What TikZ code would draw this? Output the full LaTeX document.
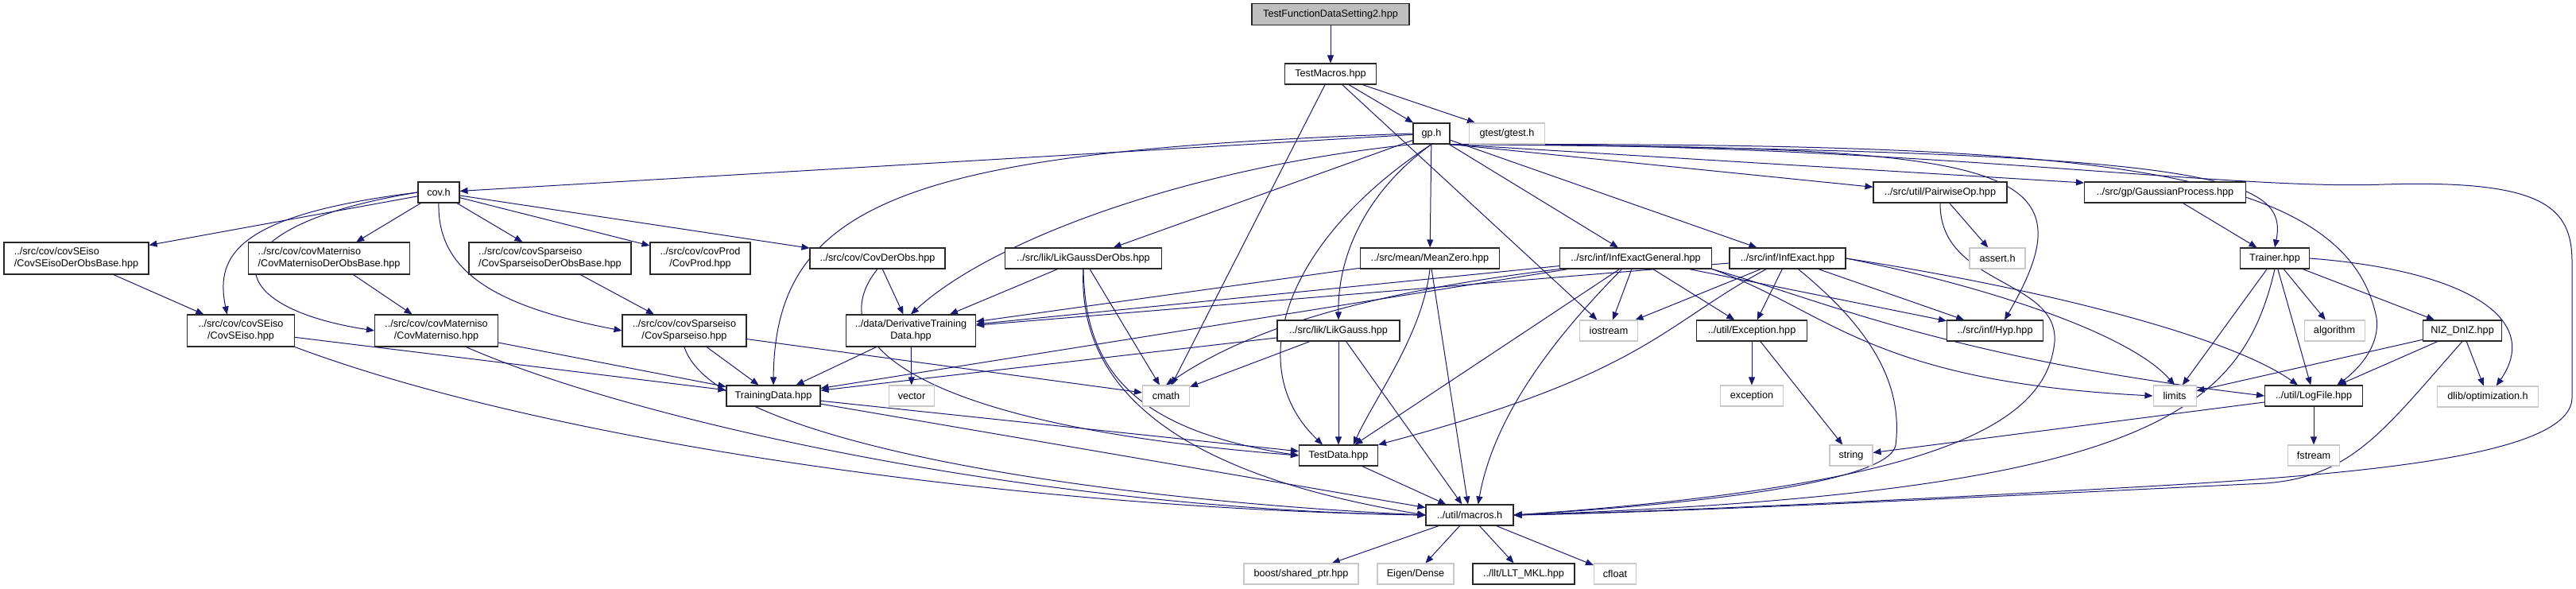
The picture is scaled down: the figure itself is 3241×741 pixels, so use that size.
\documentclass[tikz,border=0pt]{standalone}
\usepackage{fontspec}
\setmainfont{Liberation Sans}
\usetikzlibrary{arrows.meta}
\pgfdeclarelayer{edges}
\pgfsetlayers{edges,main}
\definecolor{edgeblue}{RGB}{25,25,112}
\definecolor{rootgray}{RGB}{191,191,191}
\definecolor{sysgray}{RGB}{200,200,200}
\definecolor{boxdraw}{RGB}{40,40,40}
\newlength\gpx
\setlength\gpx{0.75pt}
\begin{document}
\begin{tikzpicture}[x=0.75pt,y=-0.75pt,every node/.style={font=\fontsize{9.5}{11.25}\selectfont},
    hdr/.style={draw=boxdraw,fill=white,line width=0.8pt,minimum height=26\gpx,inner sep=1pt,align=center},
    hdrtwo/.style={hdr,minimum height=40\gpx},
    syshdr/.style={hdr,draw=sysgray},
    dep/.style={-{Triangle[length=7.5pt,width=6pt]},color=edgeblue,line width=0.75pt}]
    \useasboundingbox (0,0) rectangle (3241,741);
    \node[hdr,fill=rootgray,minimum width=198\gpx,minimum height=27\gpx] (root) at (1674,18) {TestFunctionDataSetting2.hpp};
    \node[hdr,minimum width=115\gpx] (testmacros) at (1674,93) {TestMacros.hpp};
    \node[hdr,minimum width=46\gpx] (gp) at (1801,168) {gp.h};
    \node[syshdr,minimum width=95\gpx] (gtest) at (1896,168) {gtest/gtest.h};
    \node[hdr,minimum width=168\gpx] (pairwise) at (2441,242) {../src/util/PairwiseOp.hpp};
    \node[hdr,minimum width=203\gpx] (gaussproc) at (2724,242) {../src/gp/GaussianProcess.hpp};
    \node[hdr,minimum width=52\gpx] (cov) at (552,242) {cov.h};
    \node[hdrtwo,align=left,minimum width=182\gpx] (seisobase) at (96,325) {../src/cov/covSEiso\\/CovSEisoDerObsBase.hpp};
    \node[hdrtwo,align=left,minimum width=203\gpx] (maternbase) at (414,325) {../src/cov/covMaterniso\\/CovMaternisoDerObsBase.hpp};
    \node[hdrtwo,align=left,minimum width=204\gpx] (sparsebase) at (692,325) {../src/cov/covSparseiso\\/CovSparseisoDerObsBase.hpp};
    \node[hdrtwo,minimum width=126\gpx] (covprod) at (881,325) {../src/cov/covProd\\/CovProd.hpp};
    \node[hdr,minimum width=170\gpx] (covderobs) at (1104,325) {../src/cov/CovDerObs.hpp};
    \node[hdr,minimum width=197\gpx] (likgder) at (1363,325) {../src/lik/LikGaussDerObs.hpp};
    \node[hdr,minimum width=175\gpx] (meanzero) at (1799,325) {../src/mean/MeanZero.hpp};
    \node[hdr,minimum width=191\gpx] (infgen) at (2058,325) {../src/inf/InfExactGeneral.hpp};
    \node[hdr,minimum width=146\gpx] (infexact) at (2249,325) {../src/inf/InfExact.hpp};
    \node[syshdr,minimum width=70\gpx] (assert) at (2513,325) {assert.h};
    \node[hdr,minimum width=87\gpx] (trainer) at (2862,325) {Trainer.hpp};
    \node[hdrtwo,minimum width=135\gpx] (seiso) at (303,416) {../src/cov/covSEiso\\/CovSEiso.hpp};
    \node[hdrtwo,minimum width=155\gpx] (matern) at (549,416) {../src/cov/covMaterniso\\/CovMaterniso.hpp};
    \node[hdrtwo,minimum width=156\gpx] (sparse) at (861,416) {../src/cov/covSparseiso\\/CovSparseiso.hpp};
    \node[hdrtwo,minimum width=163\gpx] (derivtd) at (1146,416) {../data/DerivativeTraining\\Data.hpp};
    \node[hdr,minimum width=154\gpx] (likgauss) at (1684,416) {../src/lik/LikGauss.hpp};
    \node[syshdr,minimum width=73\gpx] (iostream) at (2024,416) {iostream};
    \node[hdr,minimum width=139\gpx] (exc) at (2204,416) {../util/Exception.hpp};
    \node[hdr,minimum width=121\gpx] (hyp) at (2510,416) {../src/inf/Hyp.hpp};
    \node[syshdr,minimum width=76\gpx] (algorithm) at (2937,416) {algorithm};
    \node[hdr,minimum width=99\gpx] (niz) at (3098,416) {NIZ\_DnIZ.hpp};
    \node[hdr,minimum width=118\gpx] (traindata) at (973,498) {TrainingData.hpp};
    \node[syshdr,minimum width=57\gpx] (vector) at (1147,498) {vector};
    \node[syshdr,minimum width=59\gpx] (cmath) at (1467,498) {cmath};
    \node[syshdr,minimum width=79\gpx] (exception) at (2204,498) {exception};
    \node[syshdr,minimum width=54\gpx] (limits) at (2736,498) {limits};
    \node[hdr,minimum width=123\gpx] (logfile) at (2911,498) {../util/LogFile.hpp};
    \node[syshdr,minimum width=127\gpx] (dlib) at (3130,499) {dlib/optimization.h};
    \node[hdr,minimum width=99\gpx] (testdata) at (1684,573) {TestData.hpp};
    \node[syshdr,minimum width=54\gpx] (string) at (2329,573) {string};
    \node[syshdr,minimum width=65\gpx] (fstream) at (2911,573) {fstream};
    \node[hdr,minimum width=110\gpx] (macros) at (1849,648) {../util/macros.h};
    \node[syshdr,minimum width=144\gpx] (boost) at (1637,722) {boost/shared\_ptr.hpp};
    \node[syshdr,minimum width=96\gpx] (eigen) at (1781,722) {Eigen/Dense};
    \node[hdr,minimum width=128\gpx] (llt) at (1917,722) {../llt/LLT\_MKL.hpp};
    \node[syshdr,minimum width=53\gpx] (cfloat) at (2032,722) {cfloat};
    \begin{pgfonlayer}{edges}
    \draw[dep] (root)--(testmacros);
    \draw[dep] (testmacros)--(gp); \draw[dep] (testmacros)--(gtest); \draw[dep] (testmacros)--(iostream); \draw[dep] (testmacros)--(cmath);
    \draw[dep] (gp)--(cov); \draw[dep] (gp)--(likgder); \draw[dep] (gp)--(meanzero); \draw[dep] (gp)--(infgen); \draw[dep] (gp)--(infexact);
    \draw[dep] (gp.south east)--([yshift=5pt]pairwise.west); \draw[dep] (gp.south east)--([yshift=9pt]gaussproc.west);
    \draw[dep] (gp.west) .. controls (1150,190) and (975,250) .. (traindata.north);
    \draw[dep] (gp.south west) .. controls (1500,210) and (1250,300) .. (derivtd.north);
    \draw[dep] (gp.south) .. controls (1720,240) and (1683,320) .. (likgauss.north);
    \draw[dep] (gp.south) .. controls (1620,300) and (1560,460) .. ([xshift=-15pt]testdata.north);
    \draw[dep] (gp.south east) .. controls (2780,190) and (2880,220) .. (trainer.north);
    \draw[dep] (gp.south east) .. controls (2520,185) and (2640,200) .. ([xshift=9pt]hyp.north);
    \draw[dep] (gp.south east) .. controls (2600,180) and (2950,200) .. (2990,400) .. controls (2995,440) and (2960,470) .. ([xshift=22pt]logfile.north);
    \draw[dep] (gp.south east) .. controls (2400,180) and (2800,240) .. (3000,232) .. controls (3200,226) and (3236,260) .. (3236,330) -- (3236,500) .. controls (3236,570) and (3000,595) .. (2700,612) .. controls (2350,632) and (2050,645) .. (macros.east);
    \draw[dep] (cov)--(seisobase); \draw[dep] (cov)--(maternbase); \draw[dep] (cov)--(sparsebase); \draw[dep] (cov)--(covprod); \draw[dep] (cov)--(covderobs);
    \draw[dep] (cov.west) .. controls (300,270) and (270,320) .. ([xshift=-13pt]seiso.north);
    \draw[dep] (cov.west) .. controls (260,285) and (270,385) .. (matern.west);
    \draw[dep] (cov.south) .. controls (550,340) and (620,385) .. (sparse.west);
    \draw[dep] (seisobase)--(seiso); \draw[dep] (maternbase)--(matern); \draw[dep] (sparsebase)--(sparse);
    \draw[dep] (seiso)--(traindata); \draw[dep] (matern)--(traindata); \draw[dep] (sparse)--(traindata); \draw[dep] (sparse)--(cmath);
    \draw[dep] (seiso.south east) .. controls (700,560) and (1300,640) .. (macros.west);
    \draw[dep] ([xshift=28pt]matern.south) .. controls (800,530) and (1300,640) .. (macros.west);
    \draw[dep] (sparse.south) .. controls (900,560) and (1400,630) .. (macros.west);
    \draw[dep] (covderobs)--(derivtd);
    \draw[dep] (covderobs.south) .. controls (1030,430) and (1150,535) .. (testdata.west);
    \draw[dep] (likgder)--(derivtd); \draw[dep] (likgder)--(cmath);
    \draw[dep] (likgder.south) .. controls (1365,460) and (1420,540) .. (testdata.west);
    \draw[dep] (likgder.south) .. controls (1355,500) and (1500,600) .. (macros.west);
    \draw[dep] (meanzero)--(derivtd); \draw[dep] (meanzero)--(macros);
    \draw[dep] (meanzero.south) .. controls (1790,420) and (1730,500) .. ([xshift=14pt]testdata.north);
    \draw[dep] (infgen)--(derivtd); \draw[dep] (infgen)--(traindata); \draw[dep] (infgen)--(testdata);
    \draw[dep] ([xshift=-13pt]infgen.south) .. controls (1960,420) and (1880,520) .. ([xshift=8pt]macros.north);
    \draw[dep] (infgen)--(iostream); \draw[dep] (infgen)--(exc); \draw[dep] (infgen)--(hyp);
    \draw[dep] (infgen.south west) .. controls (1700,370) and (1560,420) .. (cmath.north);
    \draw[dep] (infgen.south east) .. controls (2300,390) and (2350,480) .. (limits.west);
    \draw[dep] (infgen.south east) .. controls (2300,380) and (2450,450) .. (logfile.west);
    \draw[dep] (infexact)--(iostream); \draw[dep] (infexact)--(exc); \draw[dep] (infexact)--(hyp); \draw[dep] (infexact)--(derivtd);
    \draw[dep] ([xshift=-20pt]infexact.south) .. controls (2090,410) and (2070,470) .. (testdata.north east);
    \draw[dep] (infexact.east) .. controls (2500,360) and (2680,420) .. (limits.north);
    \draw[dep] (infexact.east) .. controls (2550,360) and (2800,420) .. ([xshift=-15pt]logfile.north);
    \draw[dep] ([xshift=10pt]infexact.south) .. controls (2350,410) and (2395,480) .. (2385,560) .. controls (2378,600) and (2200,630) .. (macros.east);
    \draw[dep] (pairwise)--(assert);
    \draw[dep] (pairwise.south) .. controls (2440,360) and (2590,350) .. (2585,430) .. controls (2575,530) and (2450,610) .. (macros.east);
    \draw[dep] (gaussproc)--(trainer);
    \draw[dep] (trainer)--(algorithm); \draw[dep] (trainer)--(niz); \draw[dep] (trainer)--(logfile); \draw[dep] (trainer)--(limits);
    \draw[dep] (trainer.south) .. controls (2820,520) and (2700,620) .. (macros.east);
    \draw[dep] (trainer.east) .. controls (3100,340) and (3200,400) .. ([xshift=8pt]dlib.north);
    \draw[dep] (niz)--(limits); \draw[dep] (niz)--(logfile); \draw[dep] (niz)--(dlib);
    \draw[dep] (niz.south) .. controls (3000,540) and (2960,600) .. (2850,608) .. controls (2500,625) and (2100,645) .. (macros.east);
    \draw[dep] (logfile)--(string); \draw[dep] (logfile)--(fstream);
    \draw[dep] (exc)--(exception); \draw[dep] (exc)--(string);
    \draw[dep] (derivtd)--(traindata); \draw[dep] (derivtd)--(vector);
    \draw[dep] (likgauss)--(traindata); \draw[dep] (likgauss)--(cmath); \draw[dep] (likgauss)--(testdata); \draw[dep] (likgauss)--(macros);
    \draw[dep] (traindata)--(testdata); \draw[dep] (traindata)--(macros);
    \draw[dep] (testdata)--(macros);
    \draw[dep] (macros)--(boost); \draw[dep] (macros)--(eigen); \draw[dep] (macros)--(llt); \draw[dep] (macros)--(cfloat);
    \end{pgfonlayer}
\end{tikzpicture}
\end{document}
